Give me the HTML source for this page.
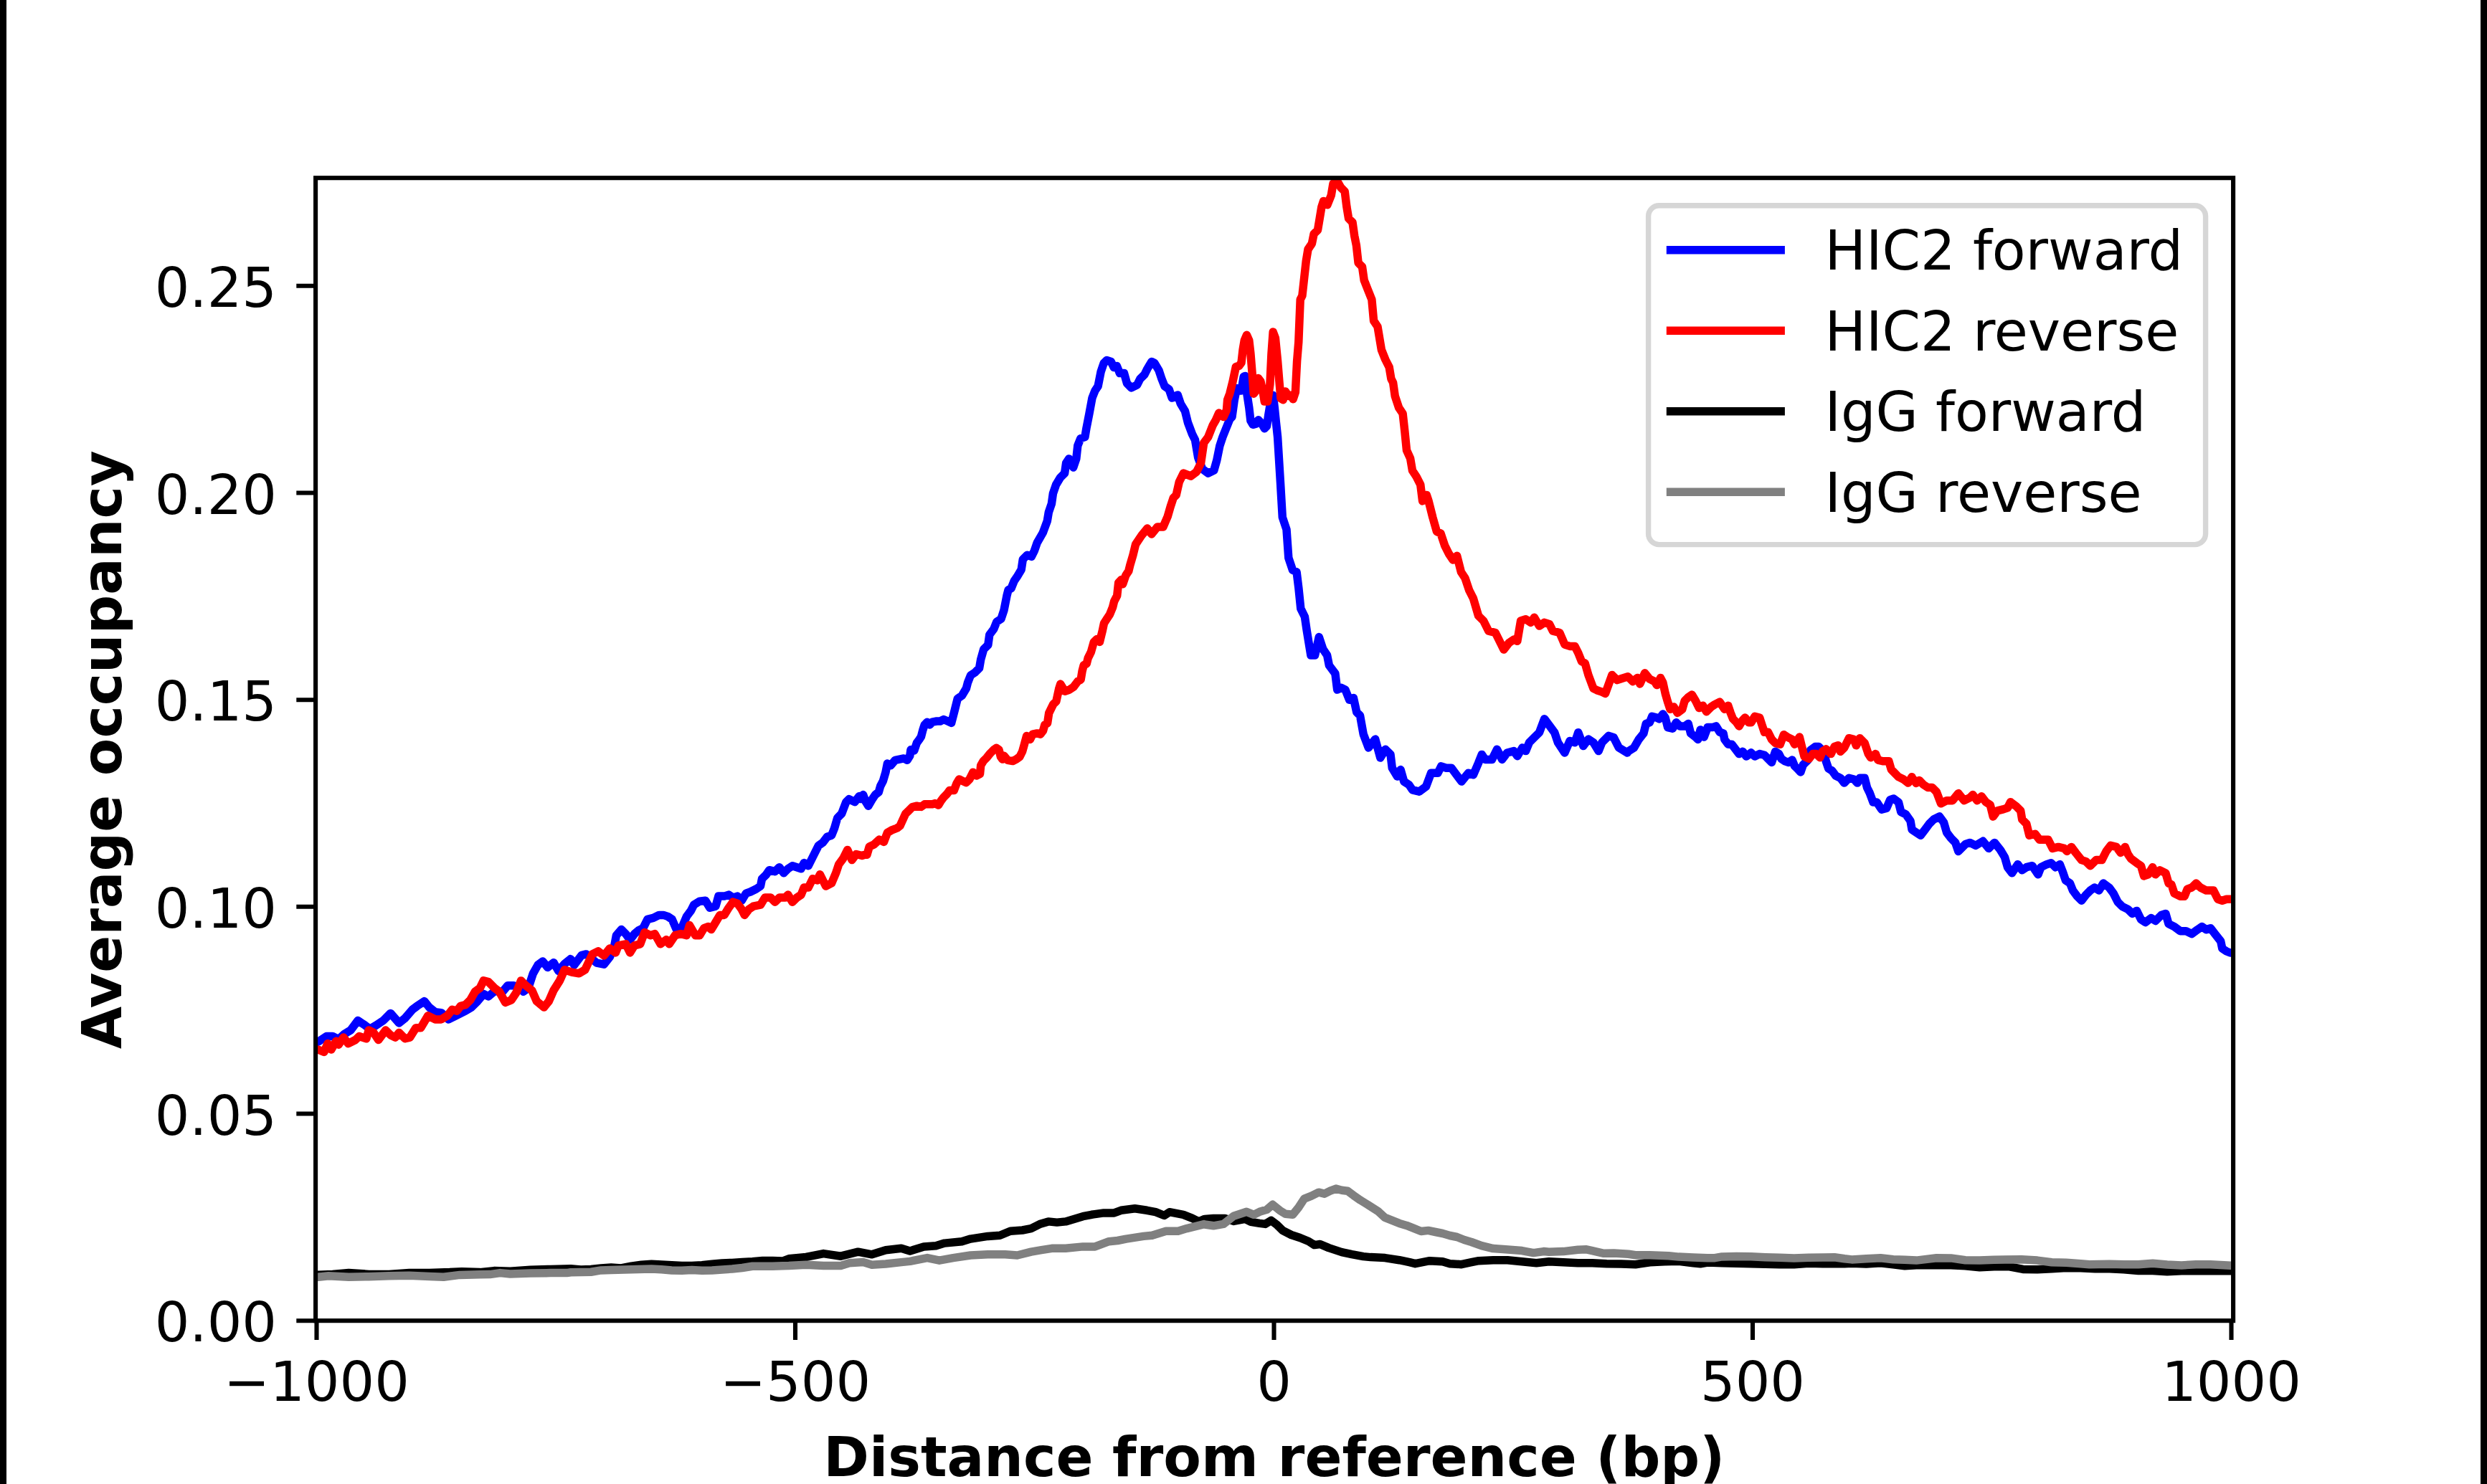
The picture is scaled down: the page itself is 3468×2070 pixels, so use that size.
<!DOCTYPE html>
<html><head><meta charset="utf-8"><title>Average occupancy plot</title>
<style>
html,body{margin:0;padding:0;background:#fff;overflow:hidden}
svg{display:block}
text{font-family:"DejaVu Sans","Liberation Sans",sans-serif;fill:#000}
</style></head><body>
<svg width="3468" height="2070" viewBox="0 0 3468 2070">
<rect x="0" y="0" width="3468" height="2070" fill="#fff"/>
<defs><clipPath id="ax"><rect x="440.1" y="248.2" width="2674.0" height="1594.0"/></clipPath></defs>

<g clip-path="url(#ax)" fill="none" stroke-width="11.5" stroke-linejoin="round" stroke-linecap="square">
<polyline stroke="#0000ff" points="441.5,1454.0 445.5,1452.0 455.3,1445.5 463.7,1445.5 472.1,1449.7 480.5,1442.1 489.0,1437.0 499.1,1423.5 509.2,1430.3 515.9,1435.3 524.4,1430.3 534.5,1423.5 544.6,1413.4 556.4,1426.9 564.8,1420.2 574.9,1408.4 581.6,1403.3 591.8,1396.6 598.5,1405.0 606.9,1411.8 615.3,1412.6 625.5,1421.9 635.6,1416.8 649.0,1410.1 657.5,1405.0 665.9,1396.6 674.3,1386.5 681.1,1389.8 691.2,1381.4 699.6,1384.8 708.0,1374.7 716.4,1374.7 726.5,1379.7 729.9,1383.1 736.7,1378.1 743.4,1357.8 750.1,1346.0 756.9,1341.0 763.6,1349.4 772.0,1342.7 778.8,1354.5 787.2,1344.4 795.6,1337.6 800.7,1346.0 810.8,1332.6 817.5,1330.9 832.1,1343.1 842.2,1345.1 850.3,1335.0 856.4,1320.8 859.4,1304.7 866.5,1296.6 872.6,1302.7 878.6,1310.7 884.7,1302.7 890.7,1297.6 896.8,1294.6 902.9,1282.4 911.0,1280.4 919.0,1276.4 925.1,1276.4 931.2,1278.4 937.2,1282.4 943.3,1296.6 951.4,1292.5 957.4,1278.4 963.5,1270.3 967.5,1262.2 975.6,1257.2 983.7,1256.2 989.8,1266.3 997.9,1264.2 1001.9,1250.1 1010.0,1250.1 1016.1,1248.1 1022.1,1252.1 1028.2,1250.1 1034.2,1256.2 1040.3,1246.1 1046.4,1244.0 1054.5,1240.0 1060.5,1236.0 1062.5,1225.8 1068.6,1219.8 1072.7,1213.7 1080.7,1215.7 1086.8,1209.7 1092.9,1217.8 1098.9,1211.7 1105.0,1207.7 1111.1,1209.7 1117.1,1211.7 1121.2,1203.6 1127.2,1207.7 1135.3,1191.5 1141.4,1179.4 1147.4,1175.3 1153.5,1167.2 1159.6,1165.2 1163.6,1155.1 1167.7,1141.0 1173.7,1134.9 1179.8,1118.7 1183.8,1114.7 1191.9,1118.7 1198.0,1110.6 1200.0,1114.6 1203.6,1108.6 1207.2,1118.2 1210.9,1124.2 1215.7,1115.8 1220.5,1108.6 1225.3,1104.9 1227.7,1096.5 1231.4,1089.3 1235.0,1077.2 1237.4,1065.1 1242.2,1067.6 1248.3,1060.3 1254.3,1059.1 1260.3,1057.9 1265.1,1060.3 1268.8,1054.3 1270.0,1045.8 1274.8,1047.0 1278.4,1036.2 1282.0,1031.4 1284.4,1027.7 1286.9,1018.1 1289.3,1010.9 1292.9,1007.2 1296.5,1010.9 1300.1,1007.2 1306.2,1006.0 1311.0,1006.0 1315.8,1003.6 1321.8,1006.0 1326.7,1008.4 1331.3,990.5 1335.3,974.4 1341.4,970.3 1347.4,960.2 1349.5,952.1 1353.5,942.0 1359.6,938.0 1365.6,931.9 1367.7,919.8 1371.7,905.6 1377.8,899.6 1379.8,885.4 1385.8,877.3 1389.9,867.2 1396.0,863.2 1400.0,851.1 1404.0,830.8 1406.1,822.8 1410.1,820.7 1414.1,810.6 1418.2,804.6 1424.2,794.5 1426.3,780.3 1432.3,774.3 1438.4,776.3 1442.4,768.2 1446.2,757.2 1454.3,743.0 1460.3,726.8 1462.3,714.7 1466.4,702.6 1468.4,688.4 1472.5,676.3 1478.5,666.2 1484.6,660.1 1486.6,646.0 1490.6,639.9 1496.7,652.0 1500.8,639.9 1502.8,621.7 1506.8,611.6 1512.9,609.6 1514.9,597.5 1518.9,577.2 1523.0,555.0 1527.0,544.9 1531.1,538.8 1535.1,518.6 1539.2,506.5 1543.2,502.5 1549.3,504.5 1553.3,512.6 1557.4,510.5 1561.4,520.6 1567.5,520.6 1571.5,534.8 1577.6,540.9 1585.7,536.8 1589.7,528.7 1595.8,522.7 1599.8,514.6 1605.9,504.5 1609.9,506.5 1616.0,516.6 1620.0,528.7 1624.1,538.8 1630.1,542.9 1634.2,555.0 1642.3,551.0 1646.3,563.1 1652.4,573.2 1656.4,589.4 1662.5,605.6 1666.5,613.6 1670.6,637.9 1676.6,654.1 1684.7,660.1 1692.8,656.1 1696.8,641.9 1700.9,621.7 1704.9,609.6 1714.8,584.8 1718.0,581.5 1721.3,557.8 1724.5,541.6 1727.7,544.9 1731.0,544.9 1734.2,525.5 1736.4,524.4 1738.5,547.0 1741.8,568.6 1743.9,586.9 1747.1,592.3 1751.5,591.2 1754.7,585.8 1759.0,590.2 1763.3,597.7 1766.5,594.5 1768.7,579.4 1771.9,560.0 1775.2,551.3 1777.3,568.6 1779.5,590.2 1781.6,609.6 1785.5,673.4 1788.3,721.5 1794.0,738.5 1796.8,778.1 1802.5,795.1 1808.1,797.9 1810.9,820.6 1813.8,848.9 1819.4,860.2 1822.3,880.0 1827.9,914.0 1833.6,914.0 1839.3,888.5 1844.9,905.5 1850.6,914.0 1853.4,928.1 1861.9,939.5 1864.7,962.1 1870.4,959.3 1876.0,962.1 1881.7,976.3 1887.4,973.4 1891.8,993.4 1896.5,998.1 1901.2,1024.1 1908.3,1042.9 1917.7,1031.1 1924.8,1057.1 1931.9,1045.3 1939.0,1052.4 1941.3,1071.2 1948.4,1083.0 1953.1,1073.6 1957.8,1090.1 1964.9,1094.8 1969.6,1101.9 1979.1,1104.2 1988.5,1097.2 1995.6,1078.3 2005.0,1078.3 2009.7,1068.9 2016.8,1071.2 2023.9,1071.2 2030.9,1080.7 2038.0,1090.1 2047.5,1078.3 2054.5,1080.7 2061.6,1064.2 2066.3,1052.4 2071.0,1059.4 2080.5,1059.4 2087.5,1045.3 2094.6,1059.4 2101.7,1050.0 2111.1,1047.6 2115.8,1054.7 2122.9,1042.9 2127.6,1047.6 2132.4,1035.8 2139.4,1028.8 2146.5,1021.7 2153.6,1002.8 2160.7,1012.3 2167.7,1021.7 2172.5,1035.8 2181.9,1050.0 2189.0,1033.5 2196.0,1035.8 2200.8,1021.7 2207.8,1040.6 2214.9,1031.1 2222.0,1035.8 2229.1,1047.6 2233.8,1035.8 2243.2,1026.4 2250.3,1028.8 2257.4,1042.9 2269.2,1050.0 2270.0,1048.3 2278.4,1043.2 2285.2,1031.4 2291.9,1023.0 2295.3,1009.5 2300.3,1007.8 2303.7,999.4 2310.4,1001.1 2313.8,1002.8 2318.9,996.0 2322.2,1001.1 2325.6,1014.6 2332.3,1016.3 2337.4,1007.8 2342.5,1012.9 2349.2,1012.9 2354.2,1009.5 2357.6,1023.0 2364.4,1028.1 2367.7,1031.4 2371.1,1017.9 2376.1,1028.1 2381.2,1014.6 2387.9,1014.6 2393.0,1012.9 2398.1,1021.3 2403.1,1023.0 2404.8,1031.4 2409.8,1038.2 2414.9,1038.2 2420.0,1044.9 2425.0,1051.6 2430.1,1048.3 2435.1,1055.0 2441.9,1050.0 2446.9,1055.0 2453.7,1051.6 2460.4,1053.3 2465.5,1058.4 2470.5,1063.4 2475.6,1048.3 2480.6,1051.6 2484.0,1058.4 2489.0,1061.8 2494.1,1063.4 2499.1,1060.1 2502.5,1068.5 2507.6,1073.5 2510.9,1076.9 2514.3,1066.8 2521.1,1060.1 2524.4,1046.6 2531.2,1041.5 2536.2,1041.5 2543.0,1048.3 2546.3,1061.8 2549.7,1071.9 2554.8,1075.2 2559.8,1082.0 2566.5,1085.3 2571.6,1092.1 2578.3,1085.3 2585.1,1087.0 2590.1,1092.1 2593.5,1085.3 2600.2,1085.3 2603.6,1098.8 2607.0,1105.6 2612.0,1119.0 2617.1,1119.0 2623.8,1129.1 2630.6,1127.5 2635.6,1115.7 2640.7,1114.0 2647.4,1119.0 2650.8,1132.5 2657.5,1135.9 2664.0,1145.0 2666.1,1157.2 2672.1,1161.2 2678.2,1165.3 2684.3,1157.2 2690.3,1149.1 2696.4,1143.0 2704.5,1139.0 2710.5,1147.1 2714.6,1161.2 2720.7,1169.3 2726.7,1175.4 2730.8,1187.5 2736.8,1181.4 2740.9,1177.4 2746.9,1175.4 2755.0,1179.4 2765.1,1173.3 2773.2,1183.4 2781.3,1175.4 2789.4,1185.5 2795.5,1195.6 2799.5,1209.7 2805.6,1217.8 2813.7,1205.7 2819.7,1213.8 2825.8,1209.7 2833.9,1207.7 2842.0,1219.8 2846.0,1209.7 2854.1,1205.7 2860.2,1203.7 2866.2,1209.7 2872.3,1205.7 2876.3,1215.8 2880.4,1227.9 2886.5,1232.0 2890.5,1242.1 2896.6,1250.2 2902.6,1256.2 2908.7,1248.2 2914.8,1242.1 2920.8,1238.0 2926.9,1242.1 2933.0,1232.0 2941.1,1238.0 2947.1,1246.1 2953.2,1258.3 2959.2,1264.3 2967.3,1268.4 2973.4,1274.4 2979.5,1270.4 2985.5,1282.5 2991.6,1286.6 2999.7,1280.5 3005.8,1284.5 3013.8,1276.5 3019.9,1274.4 3024.0,1288.6 3032.0,1292.6 3040.1,1298.7 3048.2,1298.7 3056.3,1302.7 3064.4,1296.7 3070.5,1292.6 3076.5,1296.7 3082.6,1294.7 3088.7,1302.7 3096.7,1312.9 3098.8,1323.0 3104.8,1327.0 3109.9,1329.0 3111.5,1329.0"/>
<polyline stroke="#ff0000" points="441.5,1464.0 443.5,1464.0 451.9,1467.4 457.0,1455.6 462.0,1464.0 468.8,1452.2 472.1,1457.2 478.9,1447.1 485.6,1455.6 495.7,1450.5 500.8,1445.5 510.9,1448.8 514.2,1437.0 521.0,1440.4 527.7,1450.5 537.8,1437.0 544.6,1443.8 551.3,1447.1 556.4,1440.4 564.8,1448.8 571.5,1447.1 580.0,1433.7 586.7,1433.7 596.8,1416.8 606.9,1421.9 615.3,1421.9 623.8,1416.8 630.5,1408.4 637.2,1410.1 642.3,1403.3 649.0,1401.6 655.8,1394.9 662.5,1383.1 669.3,1378.1 674.3,1367.9 681.1,1369.6 689.5,1378.1 696.2,1383.1 704.6,1398.3 713.1,1394.9 719.8,1384.8 726.5,1367.9 733.3,1374.7 741.7,1381.4 748.4,1396.6 758.6,1405.0 765.3,1396.6 772.0,1381.4 780.5,1367.9 787.2,1352.8 797.3,1356.1 807.4,1357.8 815.8,1352.8 826.1,1330.9 834.1,1326.9 842.2,1333.0 850.3,1322.9 858.4,1328.9 862.4,1318.8 872.6,1316.8 878.6,1328.9 884.7,1318.8 892.8,1316.8 898.8,1300.6 906.9,1304.7 913.0,1302.7 921.1,1316.8 929.1,1310.7 933.2,1316.8 941.3,1304.7 949.4,1302.7 957.4,1304.7 961.5,1290.5 969.6,1304.7 975.6,1304.7 981.7,1294.6 987.8,1292.5 991.8,1296.6 997.9,1286.5 1003.9,1276.4 1010.0,1276.4 1016.1,1266.3 1022.1,1258.2 1028.2,1260.2 1034.2,1268.3 1038.3,1276.4 1044.4,1268.3 1050.4,1264.2 1060.5,1262.2 1066.6,1252.1 1074.7,1252.1 1080.7,1258.2 1086.8,1252.1 1094.9,1252.1 1098.9,1248.1 1105.0,1258.2 1111.1,1252.1 1117.1,1248.1 1121.2,1238.0 1127.2,1238.0 1133.3,1225.8 1139.4,1227.9 1143.4,1219.8 1151.5,1236.0 1159.6,1231.9 1165.6,1217.8 1169.7,1205.6 1175.7,1197.5 1181.8,1185.4 1187.9,1199.6 1193.9,1191.5 1202.0,1193.5 1208.1,1191.5 1209.0,1192.2 1212.3,1180.9 1218.7,1178.0 1226.0,1171.2 1232.5,1174.4 1237.4,1161.5 1243.0,1158.2 1251.1,1155.0 1255.1,1151.8 1262.7,1135.1 1267.6,1130.3 1272.4,1125.5 1278.4,1124.2 1284.4,1125.5 1289.3,1121.8 1295.3,1121.8 1300.1,1121.8 1303.7,1120.6 1308.6,1123.0 1312.2,1117.0 1315.8,1112.2 1320.6,1107.4 1324.2,1102.5 1330.3,1102.5 1333.9,1092.9 1337.5,1086.9 1342.3,1089.3 1347.2,1091.7 1352.0,1086.9 1356.8,1077.2 1361.6,1082.0 1366.5,1079.6 1367.7,1067.6 1371.3,1061.5 1376.1,1056.7 1380.9,1050.7 1385.8,1045.8 1389.4,1043.4 1393.0,1045.8 1395.4,1055.5 1397.8,1059.1 1400.2,1054.3 1405.1,1060.3 1412.3,1061.5 1417.1,1059.1 1422.0,1055.5 1425.6,1048.3 1428.0,1039.8 1431.6,1026.5 1436.4,1031.4 1440.0,1024.1 1446.1,1022.9 1450.9,1024.1 1454.5,1019.3 1456.9,1010.9 1460.6,1008.7 1462.7,994.6 1468.7,982.4 1472.8,978.4 1476.8,960.2 1478.8,954.1 1484.9,964.2 1490.9,962.2 1497.0,958.2 1503.1,950.1 1507.1,948.1 1509.1,936.0 1511.2,927.9 1515.2,925.8 1517.2,917.8 1521.3,909.7 1525.3,895.5 1529.4,891.5 1533.4,895.5 1537.4,879.4 1539.5,869.3 1543.5,863.2 1547.5,857.1 1551.6,847.0 1553.6,838.9 1557.7,830.8 1559.7,812.7 1563.7,808.6 1565.7,814.7 1569.8,802.6 1573.8,796.5 1575.8,788.4 1579.9,774.3 1583.6,759.2 1591.7,747.1 1599.8,737.0 1605.9,745.0 1614.0,734.9 1622.0,734.9 1628.1,720.8 1632.2,706.6 1636.2,694.5 1640.2,690.5 1644.3,672.3 1650.3,660.1 1660.5,664.2 1668.5,658.1 1674.6,646.0 1678.7,617.7 1684.7,609.6 1691.1,593.4 1695.4,585.8 1699.7,576.1 1706.2,581.5 1710.5,571.8 1711.6,557.8 1714.8,549.2 1719.1,531.9 1723.4,511.5 1727.7,510.4 1731.0,506.1 1733.1,487.7 1735.3,474.8 1738.5,467.3 1741.8,474.8 1743.9,493.1 1746.1,520.1 1748.2,549.2 1751.5,544.9 1754.7,527.6 1757.9,531.9 1761.2,547.0 1763.3,560.0 1767.6,560.0 1770.9,536.3 1773.0,493.1 1775.2,462.9 1778.4,471.6 1781.6,503.9 1783.8,530.9 1786.0,555.7 1789.2,557.8 1792.4,546.0 1796.7,552.4 1800.0,551.3 1803.2,556.7 1806.4,547.0 1808.6,503.9 1810.8,477.0 1813.2,417.9 1815.9,412.5 1818.6,388.2 1821.3,364.0 1824.0,347.8 1829.4,339.7 1832.1,326.3 1837.5,320.9 1840.2,304.7 1842.9,288.5 1845.6,280.4 1850.9,285.8 1856.3,272.3 1859.0,256.2 1864.4,252.1 1869.8,261.6 1875.2,267.0 1877.9,288.5 1880.6,304.7 1886.0,310.1 1888.7,328.9 1891.4,342.4 1894.1,366.7 1899.5,372.1 1902.2,390.9 1907.5,404.4 1912.9,417.9 1915.6,447.5 1921.0,455.6 1926.4,488.0 1931.8,501.5 1937.2,512.2 1939.9,528.4 1942.6,533.8 1945.3,552.7 1950.7,568.8 1956.1,576.9 1958.8,601.2 1961.5,628.1 1966.6,639.4 1969.5,656.4 1975.1,664.9 1980.8,676.2 1983.6,698.9 1989.3,690.4 1992.1,698.9 1997.8,721.5 2003.4,741.3 2009.1,744.2 2014.7,761.1 2020.4,772.5 2026.1,781.0 2031.7,775.3 2037.4,797.9 2043.0,806.4 2048.7,823.4 2054.4,834.7 2061.6,859.0 2068.7,866.0 2075.8,880.2 2085.2,882.5 2092.3,896.7 2097.0,906.1 2104.1,896.7 2111.1,892.0 2115.8,894.3 2120.6,866.0 2127.6,863.7 2134.7,868.4 2139.4,861.3 2146.5,873.1 2153.6,868.4 2160.7,870.8 2165.4,880.2 2174.8,882.5 2181.9,899.1 2189.0,901.4 2196.0,901.4 2200.8,910.8 2205.5,922.6 2210.2,925.0 2214.9,941.5 2222.0,960.4 2226.7,962.7 2233.8,965.1 2238.5,967.5 2247.9,941.5 2255.0,948.6 2262.1,946.2 2270.0,943.8 2276.7,950.5 2283.5,945.5 2286.8,953.9 2293.6,938.8 2300.3,947.2 2307.1,950.5 2310.4,955.6 2315.5,945.5 2318.9,952.2 2322.2,967.4 2325.6,979.2 2329.0,989.3 2334.0,985.9 2339.1,994.4 2345.8,989.3 2349.2,977.5 2354.2,972.5 2359.3,969.1 2364.4,977.5 2369.4,987.6 2374.5,984.2 2379.5,992.7 2386.3,985.9 2391.3,982.6 2398.1,979.2 2404.8,989.3 2409.8,984.2 2413.2,994.4 2416.6,1002.8 2421.6,1007.8 2425.0,1012.9 2430.1,1004.5 2433.4,1001.1 2438.5,1007.8 2441.9,1007.8 2446.9,999.4 2453.7,1001.1 2457.0,1011.2 2460.4,1021.3 2465.5,1021.3 2470.5,1031.4 2475.6,1036.5 2482.3,1038.2 2487.4,1024.7 2492.4,1028.1 2499.1,1031.4 2502.5,1038.2 2509.3,1028.1 2512.6,1041.5 2516.0,1055.0 2522.7,1058.4 2527.8,1051.6 2532.8,1051.6 2537.9,1056.7 2541.3,1048.3 2546.3,1044.9 2553.1,1051.6 2558.1,1041.5 2563.2,1039.8 2566.5,1048.3 2571.6,1043.2 2578.3,1029.7 2585.1,1031.4 2588.4,1039.8 2593.5,1029.7 2600.2,1036.5 2605.3,1051.6 2608.7,1056.7 2615.4,1051.6 2618.8,1060.1 2625.5,1061.8 2633.9,1061.8 2637.3,1073.5 2640.7,1076.9 2647.4,1083.7 2654.2,1087.0 2660.9,1092.1 2666.0,1083.7 2666.1,1084.4 2672.1,1092.5 2676.2,1088.4 2682.2,1094.5 2688.3,1098.5 2694.4,1098.5 2700.4,1104.6 2706.5,1120.8 2714.6,1116.7 2722.7,1116.7 2730.8,1106.6 2738.9,1116.7 2746.9,1112.7 2751.0,1108.6 2757.1,1116.7 2763.1,1110.7 2769.2,1118.7 2775.3,1122.8 2779.3,1139.0 2785.4,1130.9 2793.4,1128.9 2799.5,1126.8 2803.6,1118.7 2811.6,1124.8 2817.7,1130.9 2819.7,1143.0 2825.8,1149.1 2829.8,1165.3 2837.9,1163.2 2844.0,1171.3 2850.1,1171.3 2856.1,1171.3 2862.2,1183.4 2870.3,1181.4 2878.4,1183.4 2882.4,1187.5 2888.5,1181.4 2894.5,1189.5 2902.6,1199.6 2908.7,1201.6 2914.8,1207.7 2922.9,1199.6 2930.9,1199.6 2937.0,1187.5 2943.1,1179.4 2951.2,1181.4 2957.2,1189.5 2963.3,1181.4 2967.3,1191.5 2971.4,1197.6 2979.5,1203.7 2985.5,1207.7 2989.6,1221.9 2995.6,1219.8 3001.7,1209.7 3005.8,1219.8 3011.8,1213.8 3019.9,1217.8 3024.0,1232.0 3028.0,1234.0 3032.0,1246.1 3040.1,1250.2 3046.2,1250.2 3050.2,1240.1 3056.3,1238.0 3062.4,1232.0 3068.4,1238.0 3076.5,1242.1 3086.6,1242.1 3092.7,1254.2 3098.8,1256.2 3104.8,1254.2 3109.9,1254.2 3111.5,1254.2"/>
<polyline stroke="#000000" points="441.5,1778.2 444.1,1778.2 463.8,1777.4 486.3,1775.4 514.4,1777.4 542.6,1777.4 570.7,1775.4 598.9,1775.4 627.0,1774.6 643.9,1773.7 669.2,1774.6 688.9,1772.6 711.5,1773.2 739.6,1771.2 767.7,1770.4 795.9,1769.8 810.0,1770.9 824.0,1770.4 838.1,1769.0 852.2,1768.1 866.3,1769.0 880.3,1766.1 894.4,1764.2 908.5,1763.3 922.5,1763.9 936.6,1764.7 950.7,1765.6 964.8,1765.6 978.8,1764.7 992.9,1763.3 1007.0,1761.9 1021.0,1761.4 1035.1,1760.5 1049.2,1759.7 1063.3,1758.5 1077.3,1758.5 1091.4,1759.1 1100.0,1755.8 1124.1,1753.4 1148.3,1748.6 1172.4,1752.2 1196.5,1746.2 1215.8,1749.8 1235.1,1743.7 1256.8,1741.3 1268.9,1744.9 1288.2,1738.9 1305.1,1737.7 1317.1,1734.1 1341.3,1731.7 1353.3,1728.1 1377.4,1724.4 1394.3,1723.2 1408.8,1717.2 1425.7,1716.0 1437.8,1713.6 1449.8,1707.6 1461.9,1703.9 1473.9,1705.1 1486.0,1703.9 1510.1,1696.7 1522.2,1694.3 1539.1,1691.9 1553.6,1691.9 1563.2,1688.3 1582.5,1685.8 1599.4,1688.3 1611.5,1690.7 1623.5,1695.5 1630.8,1690.7 1650.1,1694.3 1662.1,1699.1 1671.8,1703.9 1680.0,1700.4 1692.1,1699.4 1708.1,1699.4 1720.2,1703.4 1736.3,1700.4 1744.3,1704.4 1756.4,1706.4 1764.4,1707.4 1772.5,1702.4 1780.5,1708.4 1788.6,1716.4 1800.6,1722.5 1812.7,1726.5 1824.8,1731.5 1832.8,1736.6 1840.8,1735.5 1852.9,1740.6 1871.0,1746.6 1885.1,1749.6 1901.1,1752.6 1911.2,1753.6 1931.3,1754.6 1951.4,1757.7 1965.5,1760.7 1973.5,1762.7 1993.6,1758.7 2011.7,1759.7 2021.8,1762.7 2037.9,1763.7 2051.9,1760.7 2062.0,1758.7 2082.1,1757.7 2102.2,1757.7 2122.3,1759.7 2142.4,1761.7 2160.0,1759.7 2180.1,1760.7 2200.2,1761.7 2220.3,1761.7 2240.4,1762.7 2260.5,1763.1 2280.6,1763.7 2300.7,1760.7 2320.8,1759.7 2340.9,1759.3 2361.0,1761.7 2371.1,1762.7 2381.1,1761.1 2401.3,1761.7 2421.4,1762.3 2441.5,1762.7 2461.6,1763.3 2481.7,1763.7 2501.8,1763.7 2521.9,1762.3 2542.0,1762.7 2562.1,1762.7 2572.1,1762.7 2582.2,1762.3 2602.3,1763.1 2622.4,1761.7 2640.0,1763.7 2656.1,1765.7 2672.2,1764.7 2700.3,1764.7 2720.4,1764.7 2740.5,1765.7 2760.6,1767.8 2780.7,1766.7 2800.8,1766.7 2820.9,1770.4 2841.0,1770.8 2861.1,1769.8 2881.3,1768.4 2901.4,1768.8 2921.5,1769.8 2941.6,1769.8 2961.7,1770.8 2981.8,1772.4 3001.9,1772.4 3022.0,1773.8 3042.1,1772.8 3062.2,1772.8 3082.3,1772.4 3110.4,1772.8 3111.5,1772.8"/>
<polyline stroke="#808080" points="441.5,1781.2 444.1,1781.2 458.1,1779.8 486.3,1781.2 514.4,1780.7 542.6,1779.8 570.7,1779.2 598.9,1780.4 618.6,1781.2 641.1,1778.4 669.2,1777.8 683.3,1777.6 697.4,1775.6 711.5,1777.0 739.6,1776.1 767.7,1775.6 790.3,1775.6 795.9,1774.7 824.0,1774.2 838.1,1771.9 852.2,1771.4 880.3,1770.8 908.5,1770.0 922.5,1770.8 936.6,1771.9 950.7,1772.2 964.8,1771.4 978.8,1772.2 992.9,1771.9 1021.0,1770.0 1035.1,1768.5 1049.2,1766.3 1077.3,1766.3 1091.4,1765.7 1100.0,1765.5 1124.1,1764.2 1148.3,1765.5 1172.4,1765.5 1184.4,1761.8 1203.7,1760.6 1215.8,1764.2 1235.1,1763.0 1256.8,1760.6 1268.9,1759.4 1293.0,1754.6 1309.9,1758.2 1329.2,1754.6 1353.3,1751.0 1377.4,1749.8 1401.6,1749.8 1418.5,1751.0 1437.8,1746.2 1452.2,1743.7 1466.7,1741.3 1486.0,1741.3 1510.1,1738.9 1527.0,1738.9 1546.3,1731.7 1558.4,1730.5 1570.4,1728.1 1594.6,1724.4 1606.6,1723.2 1625.9,1717.2 1642.8,1717.2 1654.9,1713.6 1679.0,1707.6 1680.0,1708.0 1692.1,1709.8 1706.1,1707.4 1720.2,1696.3 1738.3,1690.3 1748.4,1694.3 1756.4,1690.3 1766.4,1687.3 1774.5,1680.3 1784.5,1688.3 1792.6,1693.3 1802.6,1694.3 1810.7,1684.3 1818.7,1672.2 1828.8,1668.2 1838.8,1663.2 1846.9,1665.2 1854.9,1661.2 1863.0,1658.1 1871.0,1660.2 1879.0,1661.2 1887.1,1667.2 1897.1,1674.2 1907.2,1680.3 1921.3,1689.3 1931.3,1698.4 1951.4,1706.4 1961.5,1709.4 1971.5,1713.4 1981.6,1717.5 1991.6,1716.4 2001.7,1718.5 2011.7,1720.5 2021.8,1723.5 2031.8,1725.5 2041.9,1729.5 2051.9,1732.5 2066.0,1737.6 2082.1,1741.6 2096.2,1742.6 2122.3,1744.6 2138.4,1747.6 2152.5,1745.6 2160.0,1746.2 2180.1,1745.6 2200.2,1743.2 2212.3,1742.8 2220.3,1744.6 2236.4,1748.3 2250.5,1748.0 2270.6,1749.3 2280.6,1750.7 2300.7,1750.7 2326.9,1751.7 2340.9,1753.1 2361.0,1753.9 2381.1,1754.7 2391.2,1754.7 2401.3,1752.9 2421.4,1752.5 2441.5,1752.7 2461.6,1753.7 2481.7,1754.3 2501.8,1754.9 2521.9,1754.3 2542.0,1753.9 2558.1,1753.7 2572.1,1755.7 2582.2,1756.9 2602.3,1755.7 2622.4,1754.7 2640.0,1756.7 2656.1,1757.3 2672.2,1758.1 2700.3,1754.7 2720.4,1754.9 2740.5,1757.7 2760.6,1758.1 2780.7,1757.3 2818.9,1756.7 2841.0,1758.1 2861.1,1760.7 2881.3,1761.3 2901.4,1762.7 2913.4,1763.7 2941.6,1763.3 2961.7,1763.7 2981.8,1763.7 3001.9,1762.3 3022.0,1764.1 3042.1,1764.9 3062.2,1763.7 3082.3,1763.7 3110.4,1765.3 3111.5,1765.3"/>
</g>
<rect x="440.1" y="248.2" width="2674.0" height="1594.0" fill="none" stroke="#000" stroke-width="6.1" stroke-linejoin="miter"/>
<path d="M441.5,1842.2V1869.0M1109.0,1842.2V1869.0M1776.5,1842.2V1869.0M2444.0,1842.2V1869.0M3111.5,1842.2V1869.0M440.1,1842.2H413.3M440.1,1553.5H413.3M440.1,1264.8H413.3M440.1,976.2H413.3M440.1,687.5H413.3M440.1,398.8H413.3" stroke="#000" stroke-width="6.1" fill="none"/>
<text x="441.5" y="1953.8" font-size="76.5" text-anchor="middle">−1000</text>
<text x="1109.0" y="1953.8" font-size="76.5" text-anchor="middle">−500</text>
<text x="1776.5" y="1953.8" font-size="76.5" text-anchor="middle">0</text>
<text x="2444.0" y="1953.8" font-size="76.5" text-anchor="middle">500</text>
<text x="3111.5" y="1953.8" font-size="76.5" text-anchor="middle">1000</text>
<text x="386" y="1871.3" font-size="76.5" text-anchor="end">0.00</text>
<text x="386" y="1582.6" font-size="76.5" text-anchor="end">0.05</text>
<text x="386" y="1293.9" font-size="76.5" text-anchor="end">0.10</text>
<text x="386" y="1005.2" font-size="76.5" text-anchor="end">0.15</text>
<text x="386" y="716.6" font-size="76.5" text-anchor="end">0.20</text>
<text x="386" y="427.9" font-size="76.5" text-anchor="end">0.25</text>
<text x="1776.8" y="2058.8" font-size="76.7" font-weight="bold" text-anchor="middle">Distance from reference (bp)</text>
<text transform="translate(168.7,1045.7) rotate(-90)" font-size="76.5" font-weight="bold" text-anchor="middle">Average occupancy</text>
<rect x="2298.6" y="286.7" width="777" height="472.9" rx="15" ry="15" fill="#fff" fill-opacity="0.8" stroke="#d6d6d6" stroke-width="7.4"/>
<line x1="2323.8" y1="348.8" x2="2488.9" y2="348.8" stroke="#0000ff" stroke-width="11.4" stroke-linecap="butt"/>
<text x="2544.4" y="376.1" font-size="76.5">HIC2 forward</text>
<line x1="2323.8" y1="461.3" x2="2488.9" y2="461.3" stroke="#ff0000" stroke-width="11.4" stroke-linecap="butt"/>
<text x="2544.4" y="488.6" font-size="76.5">HIC2 reverse</text>
<line x1="2323.8" y1="573.8" x2="2488.9" y2="573.8" stroke="#000000" stroke-width="11.4" stroke-linecap="butt"/>
<text x="2544.4" y="601.1" font-size="76.5">IgG forward</text>
<line x1="2323.8" y1="686.3" x2="2488.9" y2="686.3" stroke="#808080" stroke-width="11.4" stroke-linecap="butt"/>
<text x="2544.4" y="713.6" font-size="76.5">IgG reverse</text>
<rect x="0" y="0" width="9" height="2070" fill="#000"/><rect x="3459" y="0" width="9" height="2070" fill="#000"/>
</svg></body></html>
